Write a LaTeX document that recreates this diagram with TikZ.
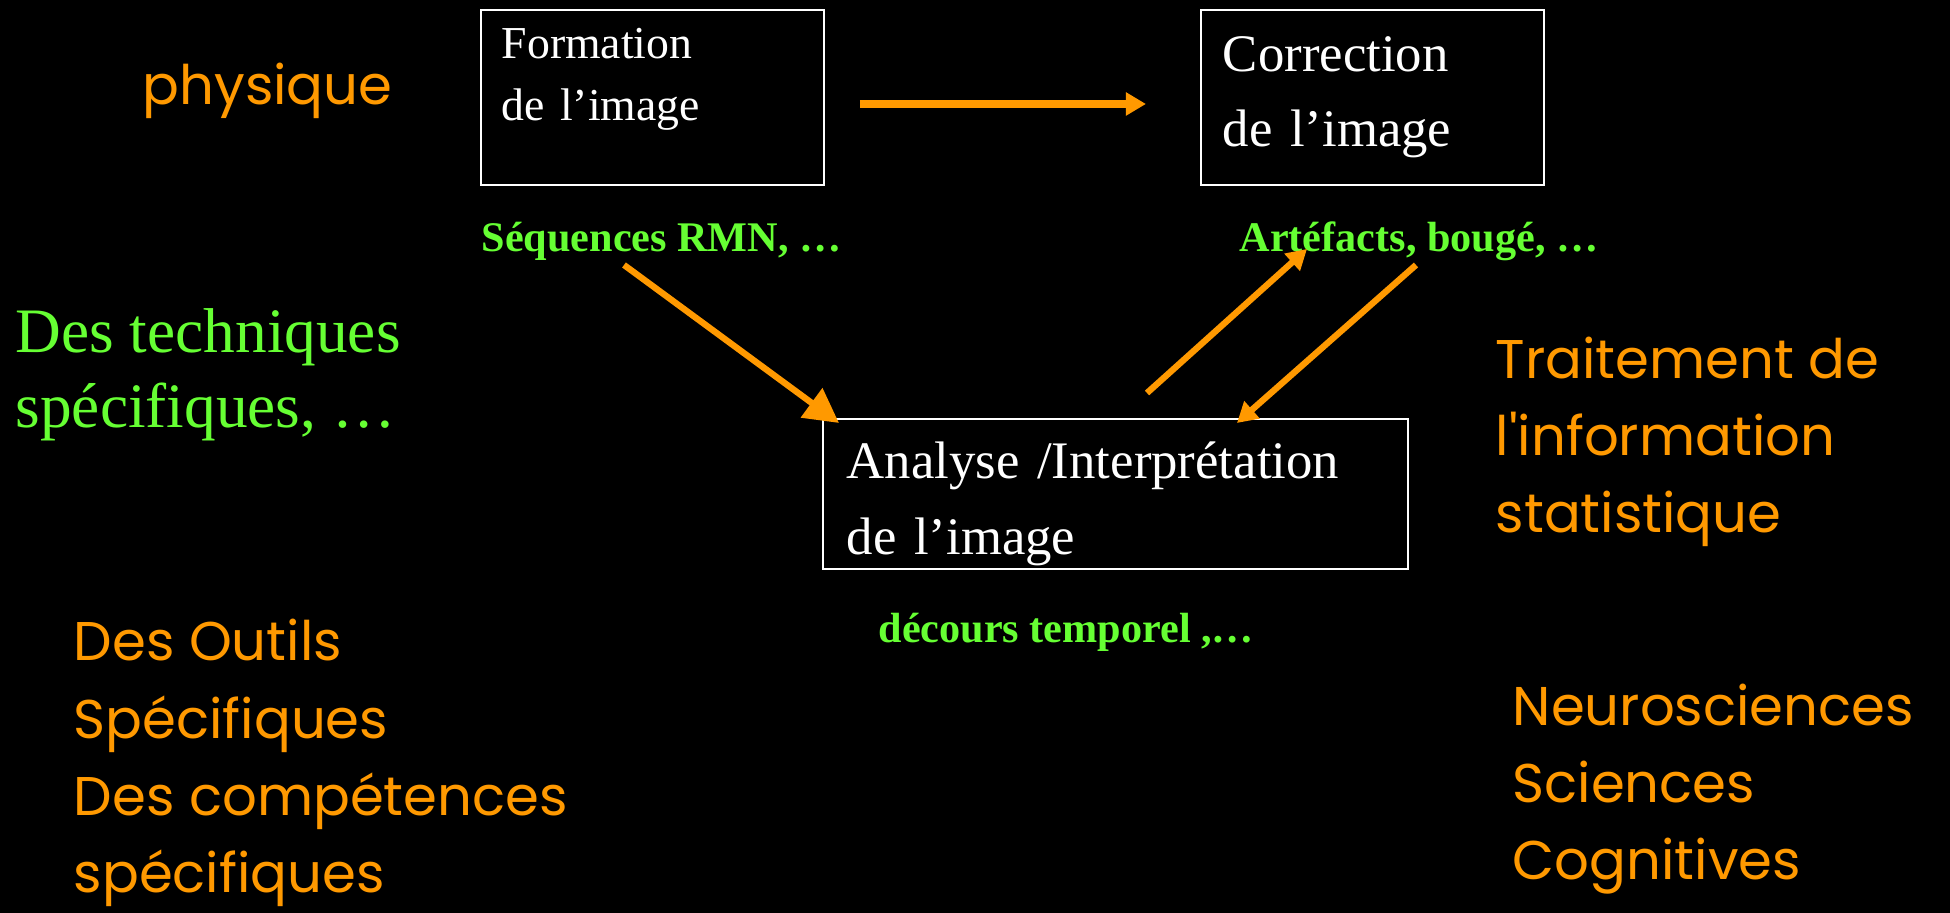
\documentclass[tikz,border=0pt]{standalone}
\usepackage{fontspec}
\setmainfont{Liberation Serif}
\newfontfamily\handfont{Poppins}
\usepackage{xcolor}
\definecolor{chalkorange}{RGB}{255,153,0}
\definecolor{chalkgreen}{RGB}{102,255,51}
\usetikzlibrary{arrows.meta, positioning, calc}

\begin{document}
\begin{tikzpicture}[x=0.01cm, y=0.01cm]
  \tikzstyle{imgbox} = [rectangle, draw=white, line width=0.5pt, text=white, anchor=north west, inner ysep=0pt, align=left]
  \tikzstyle{tag} = [text=chalkgreen, font=\fontsize{12}{14}\selectfont\bfseries, inner sep=0pt, anchor=base west]
  \tikzstyle{hand} = [text=chalkorange, font=\handfont\fontsize{15.5}{22}\selectfont, inner sep=0pt, anchor=base west, align=left]
  \tikzstyle{arrow} = [chalkorange, line width=1.8pt, -{Triangle[length=5.7pt,width=6.3pt]}]

  \fill[black] (0,0) rectangle (1950,913);

  % the three steps
  \node [imgbox, inner xsep=0.21cm, text width=3.01cm, text height=0.49cm, text depth=1.26cm, font=\fontsize{13}{17.6}\selectfont] (formation) at (480,904) {Formation\\de l’image};
  \node [imgbox, inner xsep=0.22cm, text width=2.99cm, text height=0.62cm, text depth=1.13cm, font=\fontsize{15}{21.3}\selectfont] (correction) at (1200,904) {Correction\\de l’image};
  \node [imgbox, inner xsep=0.24cm, text width=5.37cm, text height=0.60cm, text depth=0.90cm, font=\fontsize{15}{21.6}\selectfont] (analyse) at (822,495) {Analyse /Interprétation\\de l’image};

  % green labels
  \node [tag] (sequences) at (481,661) {Séquences RMN, …};
  \node [tag] (artefacts) at (1239,661) {Artéfacts, bougé, …};
  \node [tag] (decours) at (878,270) {décours temporel ,…};
  \node [text=chalkgreen, font=\fontsize{18}{21.6}\selectfont, inner sep=0pt, anchor=base west, align=left] (techniques) at (15,485) {Des techniques\\spécifiques, …};

  % handwritten notes (anchored on their last line)
  \node [hand] (physique) at (142,808) {physique};
  \node [hand] (traitement) at (1495,380) {Traitement de\\l'information\\statistique};
  \node [hand] (outils) at (73,20) {Des Outils\\Spécifiques\\Des compétences\\spécifiques};
  \node [hand] (neuro) at (1512,33) {Neurosciences\\Sciences\\Cognitives};

  \draw [arrow, line width=2.3pt] ([shift={(35,-95)}]formation.north east) -- ([shift={(-54,-95)}]correction.north west);
  \draw [arrow, -{Triangle[length=9.7pt,width=10pt]}] ([shift={(143,-13)}]sequences.base west) -- ([shift={(17,-5)}]analyse.north west);
  \draw [arrow] ([shift={(325,25)}]analyse.north west) -- ([shift={(68,3)}]artefacts.base west);
  \draw [arrow] ([shift={(177,-13)}]artefacts.base west) -- ([shift={(415,-5)}]analyse.north west);
\end{tikzpicture}
\end{document}
